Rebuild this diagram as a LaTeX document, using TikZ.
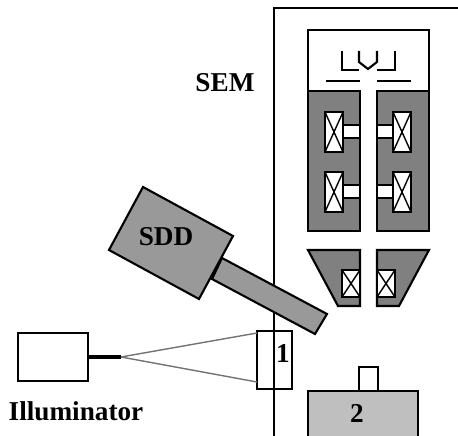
\documentclass[tikz,border=0pt]{standalone}
\usepackage{fontspec}
\setmainfont{Liberation Serif}
\usepackage{xcolor}
\usepackage{tikz}
\tikzset{
  wall/.style={black, line width=1.6pt},
  edge/.style={black, line width=1.2pt},
  lensfill/.style={edge, fill=black!50},
  detfill/.style={edge, fill=black!40},
  coilbox/.style={line width=1.6pt, fill=white},
  coilx/.style={line width=0.8pt},
  lbl/.style={font=\fontsize{15.5}{15.5}\selectfont\bfseries, inner sep=0pt},
}
\begin{document}
\begin{tikzpicture}[x=0.02cm, y=-0.02cm]
  \useasboundingbox (0,0) rectangle (458,436);
  \draw[wall]  (458,8) -- (274,8) -- (274,436);
  \draw[edge]  (308,92) -- (308,30) -- (429,30) -- (429,92);
  \draw[lensfill]  (308,91) rectangle (360,231);
  \draw[lensfill]  (377,91) rectangle (429,231);
  \draw[edge]  (342,51) -- (342,70) -- (359,70);
  \draw[edge]  (395,51) -- (395,70) -- (377,70);
  \draw[edge]  (359,51) -- (359,62) -- (368,69) -- (377,62) -- (377,51);
  \draw[edge]  (326,81) -- (360,81);
  \draw[edge]  (377,81) -- (411,81);
  \foreach \y in {112,172} {
    \draw[edge, fill=white]  (343,\y+13) rectangle (360,\y+26);
    \draw[edge, fill=white]  (377,\y+13) rectangle (393,\y+26);
    \draw[coilbox]  (325,\y) rectangle (343,\y+40);
    \draw[coilbox]  (393,\y) rectangle (411,\y+40);
    \draw[coilx]  (325,\y) -- (343,\y+40)  (343,\y) -- (325,\y+40);
    \draw[coilx]  (393,\y) -- (411,\y+40)  (411,\y) -- (393,\y+40);
  }
  \draw[lensfill]  (308,250) -- (360,250) -- (360,306) -- (338,306) -- cycle;
  \draw[lensfill]  (377,250) -- (429,250) -- (399,306) -- (377,306) -- cycle;
  \foreach \x in {342,377} {
    \draw[coilbox]  (\x,270) rectangle (\x+18,297);
    \draw[coilx]  (\x,270) -- (\x+18,297)  (\x+18,270) -- (\x,297);
  }
  \draw[edge, fill=white]  (359,367) rectangle (378,391);
  \fill[black!25]  (308,391) rectangle (418,436);
  \draw[edge]  (308,436) -- (308,391) -- (418,391) -- (418,436);
  \node[lbl] (stage) at (357,413) {2};
  \node[lbl] (sem) at (225,83) {SEM};
  \draw[detfill]  (222,258) -- (327,314) -- (315,334) -- (212,279) -- cycle;
  \draw[detfill]  (143,187) -- (233,236) -- (199,299) -- (109,250) -- cycle;
  \node[lbl] (sdd) at (166,237) {SDD};
  \node[draw, line width=1.2pt, minimum width=1.4cm, minimum height=0.96cm, inner sep=0pt] (lamp) at (53,357) {};
  \node[draw, line width=1.2pt, minimum width=0.7cm, minimum height=1.16cm, inner sep=0pt] (target) at (274.5,360) {};
  \coordinate (tip) at (121,357);
  \coordinate (rayup) at (257,333);
  \coordinate (raydown) at (257,382);
  \draw[line width=2pt]  (lamp.east) -- (tip);
  \draw[black!55, line width=0.8pt]  (tip) -- (rayup);
  \draw[black!55, line width=0.8pt]  (tip) -- (raydown);
  \node[lbl] (one) at (283,354) {1};
  \node[lbl] (illum) at (76,411) {Illuminator};
\end{tikzpicture}
\end{document}
